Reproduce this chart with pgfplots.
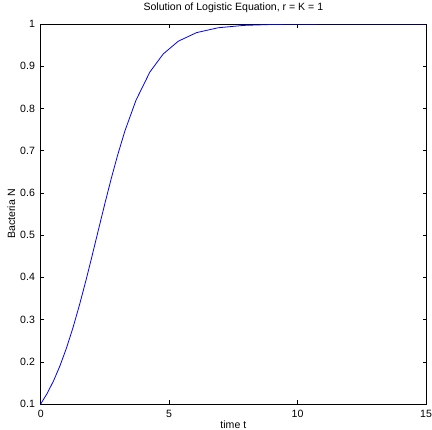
\documentclass[border=0pt]{standalone}
\usepackage{pgfplots}
\pgfplotsset{compat=1.18}
\usepackage{fontspec}
\setmainfont{Liberation Sans}
\definecolor{mblue}{RGB}{0,0,255}

\begin{document}
\begin{tikzpicture}
\useasboundingbox (-40.7bp,-26bp) rectangle (391.3bp,404bp);
\begin{axis}[
  scale only axis,
  width=385.3bp,
  height=380bp,
  font=\fontsize{10.6}{12}\selectfont,
  /pgf/number format/assume math mode=true,
  xmin=0, xmax=15,
  ymin=0.1, ymax=1,
  xtick={0,5,10,15},
  ytick={0.1,0.2,0.3,0.4,0.5,0.6,0.7,0.8,0.9,1},
  yticklabels={0.1,0.2,0.3,0.4,0.5,0.6,0.7,0.8,0.9,1},
  xticklabels={0,5,10,15},
  tick align=inside,
  major tick length=3.5bp,
  tick style={black,line width=0.5bp},
  axis line style={black,line width=0.8bp},
  title={Solution of Logistic Equation, r = K = 1},
  title style={at={(axis description cs:0.5,1.02105)},anchor=base},
  xlabel={time t},
  ylabel={Bacteria N},
  xlabel style={at={(axis description cs:0.5,-0.065)},anchor=base},
  ylabel style={at={(axis description cs:-0.0667,0.5)},anchor=base},
  every tick label/.append style={font=\fontsize{10.6}{12}\selectfont},
  xticklabel style={anchor=base,yshift=-13.3bp},
  yticklabel style={anchor=east,xshift=-2.3bp},
]
\addplot[mblue,line width=0.8bp] coordinates {
(0,0.1) (0.25,0.12486) (0.5,0.15483) (0.75,0.19043) (1,0.23197)
(1.25,0.27945) (1.5,0.33243) (1.75,0.39003) (2,0.45085) (2.25,0.51319)
(2.5,0.57512) (2.75,0.63478) (3,0.69057) (3.28,0.74702) (3.71,0.81947)
(4.25,0.88622) (4.77,0.92909) (5.36,0.95941) (6.07,0.97962) (6.91,0.99110)
(7.9,0.99667) (9,0.99889) (10.2,0.99967) (11.5,0.99991) (13,0.99998) (15,1.0)
};
\end{axis}
\end{tikzpicture}
\end{document}
